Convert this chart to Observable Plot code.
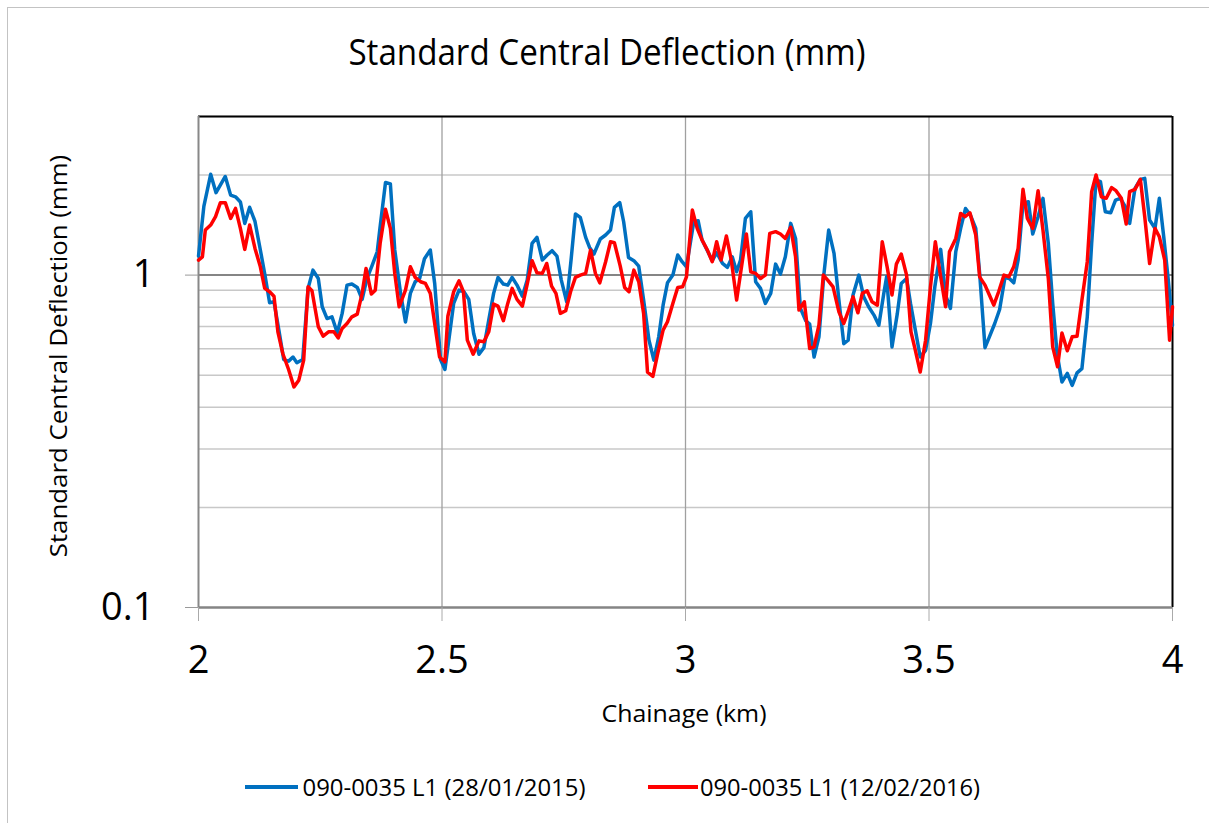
<!DOCTYPE html>
<html><head><meta charset="utf-8">
<script src="https://cdn.jsdelivr.net/npm/d3@7"></script>
<script src="https://cdn.jsdelivr.net/npm/@observablehq/plot@0.6"></script>
<style>
html,body{margin:0;padding:0;background:#fff;overflow:hidden;}
#wrap{position:relative;width:1209px;height:823px;font-family:"Open Sans",sans-serif;color:#000;overflow:hidden;}
#border{position:absolute;left:7px;top:7px;width:1300px;height:900px;border:1.5px solid #c3c3c3;box-sizing:border-box;}
#chart{position:absolute;left:0;top:0;}
.t{position:absolute;white-space:nowrap;line-height:1;transform-origin:center center;}
.sw{position:absolute;height:4px;}
</style></head><body>
<div id="wrap">
<div id="border"></div>
<div id="chart"></div>
<div class="t" id="title">Standard Central Deflection (mm)</div>
<div class="t" id="ylab">Standard Central Deflection (mm)</div>
<div class="t" id="xlab">Chainage (km)</div>
<div class="sw" id="sw1"></div><div class="t" id="lg1"></div>
<div class="sw" id="sw2"></div><div class="t" id="lg2"></div>
</div>
<script>
const seriesNames = ["090-0035 L1 (28/01/2015)", "090-0035 L1 (12/02/2016)"];
const seriesColors = ["#0070C0", "#FF0000"];
const xTicks = [2, 2.5, 3, 3.5, 4];
const yTicks = [0.1, 1];
const yMinorGrid = [0.2, 0.3, 0.4, 0.5, 0.6, 0.7, 0.8, 0.9, 2, 3];

const blueKm = [2.000,2.011,2.025,2.036,2.055,2.066,2.076,2.086,2.095,2.105,2.116,2.127,2.137,2.146,2.155,2.165,2.175,2.185,2.194,2.202,2.214,2.225,2.235,2.246,2.254,2.264,2.274,2.285,2.295,2.305,2.315,2.326,2.336,2.346,2.356,2.367,2.373,2.384,2.394,2.403,2.415,2.425,2.435,2.445,2.454,2.464,2.476,2.485,2.497,2.506,
2.524,2.535,2.545,2.555,2.565,2.576,2.586,2.596,2.606,2.615,2.626,2.635,2.644,2.654,2.665,2.675,2.685,2.695,2.706,2.716,2.726,2.736,2.745,2.756,2.765,2.774,2.784,2.795,2.803,2.812,2.825,2.836,2.846,2.854,2.865,2.873,2.883,2.894,2.904,2.914,2.925,2.935,2.945,2.954,2.963,2.974,2.984,2.993,3.002,
3.017,3.026,3.034,3.045,3.055,3.064,3.076,3.086,3.096,3.105,3.113,3.123,3.134,3.144,3.154,3.164,3.175,3.185,3.195,3.205,3.216,3.226,3.236,3.247,3.255,3.264,3.274,3.284,3.294,3.305,3.315,3.325,3.334,3.344,3.356,3.366,3.376,3.387,3.397,3.407,3.413,3.424,3.435,3.443,3.454,3.462,3.472,3.482,
3.493,3.503,3.512,3.524,3.534,3.544,3.555,3.565,3.575,3.585,3.596,3.604,3.615,3.624,3.635,3.645,3.656,3.665,3.674,3.683,3.693,3.704,3.713,3.724,3.734,3.745,3.754,3.763,3.773,3.784,3.794,3.804,3.814,3.825,3.834,3.843,3.852,3.862,3.873,3.883,3.893,3.903,3.912,3.923,3.934,3.943,3.953,3.964,3.973,3.982,3.991,4.000];
const blueMm = [1.14,1.61,2.01,1.77,1.98,1.74,1.72,1.66,1.43,1.60,1.45,1.19,0.99,0.826,0.831,0.683,0.557,0.551,0.567,0.545,0.557,0.912,1.035,0.977,0.803,0.740,0.749,0.670,0.767,0.933,0.940,0.918,0.845,0.977,1.064,1.175,1.40,1.90,1.88,1.19,0.881,0.723,0.881,0.955,0.977,1.12,1.19,0.944,0.557,0.520,
0.822,0.901,0.891,0.845,0.667,0.578,0.605,0.732,0.881,0.984,0.940,0.933,0.984,0.933,0.864,0.966,1.246,1.299,1.110,1.149,1.184,1.141,0.966,0.831,1.110,1.527,1.492,1.299,1.211,1.157,1.284,1.320,1.366,1.599,1.652,1.447,1.130,1.105,1.064,0.841,0.637,0.555,0.652,0.812,0.948,1.000,1.149,1.097,1.059,
1.447,1.457,1.275,1.184,1.105,1.168,1.084,1.055,1.135,1.023,1.110,1.481,1.551,0.955,0.912,0.822,0.881,1.079,1.007,1.135,1.431,1.289,0.794,0.729,0.712,0.567,0.652,1.000,1.366,1.162,0.841,0.622,0.637,0.871,1.000,0.860,0.803,0.758,0.707,0.877,0.988,0.608,0.767,0.944,0.977,0.822,0.683,0.567,
0.594,0.715,0.922,1.195,0.871,0.794,1.176,1.382,1.587,1.516,1.382,1.012,0.605,0.652,0.715,0.788,0.984,0.977,0.948,1.110,1.644,1.663,1.329,1.498,1.702,1.246,0.822,0.581,0.477,0.506,0.466,0.508,0.523,0.749,1.246,1.933,1.911,1.551,1.540,1.682,1.702,1.606,1.431,1.824,1.941,1.954,1.464,1.382,1.702,1.304,0.977,0.707];

const redKm = [2.000,2.008,2.014,2.025,2.035,2.045,2.055,2.066,2.076,2.086,2.095,2.105,2.116,2.127,2.136,2.146,2.155,2.163,2.173,2.185,2.196,2.206,2.216,2.225,2.233,2.246,2.256,2.267,2.278,2.287,2.295,2.305,2.315,2.326,2.336,2.344,2.355,2.363,2.373,2.384,2.394,2.403,2.412,2.425,2.435,2.445,2.456,2.466,2.476,2.485,2.495,2.506,
2.512,2.524,2.535,2.544,2.552,2.564,2.576,2.586,2.596,2.606,2.615,2.626,2.635,2.644,2.654,2.665,2.675,2.685,2.695,2.706,2.715,2.725,2.734,2.743,2.754,2.764,2.774,2.784,2.795,2.805,2.815,2.824,2.836,2.846,2.854,2.866,2.875,2.884,2.894,2.904,2.914,2.922,2.933,2.943,2.954,2.963,2.974,2.984,2.994,3.002,
3.014,3.024,3.034,3.045,3.055,3.064,3.073,3.084,3.094,3.105,3.113,3.125,3.134,3.144,3.154,3.164,3.173,3.185,3.195,3.205,3.216,3.226,3.233,3.244,3.255,3.264,3.274,3.283,3.292,3.303,3.315,3.325,3.335,3.344,3.354,3.363,3.373,3.383,3.394,3.404,3.414,3.424,3.433,3.443,3.454,3.463,3.472,3.482,3.493,3.503,3.513,
3.524,3.534,3.542,3.555,3.565,3.574,3.584,3.596,3.604,3.615,3.624,3.633,3.643,3.654,3.664,3.674,3.683,3.693,3.702,3.713,3.724,3.734,3.745,3.754,3.764,3.773,3.784,3.794,3.804,3.814,3.825,3.834,3.843,3.854,3.864,3.875,3.884,3.895,3.905,3.912,3.923,3.934,3.943,3.953,3.964,3.973,3.984,3.994,4.000];
const redMm = [1.110,1.135,1.366,1.414,1.499,1.652,1.652,1.481,1.587,1.382,1.195,1.414,1.203,1.059,0.912,0.891,0.864,0.675,0.581,0.520,0.461,0.483,0.555,0.922,0.897,0.699,0.655,0.675,0.675,0.647,0.691,0.715,0.749,0.763,0.881,1.047,0.877,0.901,1.246,1.577,1.382,1.012,0.803,0.901,1.059,0.984,0.955,0.944,0.881,0.715,0.567,0.548,
0.752,0.891,0.961,0.891,0.637,0.578,0.634,0.630,0.675,0.818,0.807,0.729,0.822,0.912,0.845,0.807,0.940,1.105,1.016,1.012,1.084,0.927,0.881,0.767,0.781,0.891,0.984,1.000,1.012,1.189,1.012,0.948,1.097,1.260,1.251,1.064,0.918,0.891,1.035,0.955,0.767,0.511,0.496,0.581,0.683,0.724,0.822,0.918,0.922,0.988,
1.569,1.382,1.275,1.189,1.097,1.260,1.110,1.311,1.110,0.841,1.012,1.329,1.023,1.012,0.977,1.000,1.335,1.351,1.329,1.289,1.392,1.135,0.785,0.831,0.601,0.608,0.707,1.000,0.966,0.922,0.775,0.715,0.785,0.860,0.770,0.881,0.897,0.831,0.812,1.260,1.059,0.871,1.079,1.157,1.000,0.675,0.594,0.511,0.637,0.922,1.260,
0.988,0.803,1.176,1.289,1.533,1.498,1.540,1.320,0.988,0.933,0.871,0.812,0.891,1.000,0.988,1.059,1.203,1.811,1.481,1.382,1.795,1.366,0.977,0.608,0.530,0.670,0.592,0.652,0.655,0.841,1.097,1.782,2.000,1.721,1.702,1.833,1.795,1.702,1.424,1.782,1.811,1.941,1.498,1.084,1.382,1.304,1.110,0.637,0.803];

const data = [
  ...blueKm.map((k, i) => ({km: k, mm: blueMm[i], s: seriesNames[0]})),
  ...redKm.map((k, i) => ({km: k, mm: redMm[i], s: seriesNames[1]}))
];

const chart = Plot.plot({
  width: 1209, height: 823,
  marginLeft: 198, marginRight: 37, marginTop: 116, marginBottom: 216,
  style: {fontFamily: "'Open Sans', sans-serif", fontSize: "38px", background: "transparent", color: "#000"},
  x: {domain: [2, 4]},
  y: {type: "log", domain: [0.1, 3]},
  color: {domain: seriesNames, range: seriesColors},
  marks: [
    Plot.ruleY(yMinorGrid, {stroke: "#c8c8c8", strokeWidth: 1.5}),
    Plot.ruleX(xTicks.slice(1, -1), {stroke: "#a0a0a0", strokeWidth: 1.3}),
    Plot.ruleY([1], {stroke: "#858585", strokeWidth: 2}),
    Plot.ruleY([3], {stroke: "#000", strokeWidth: 2}),
    Plot.ruleX([4], {stroke: "#000", strokeWidth: 2}),
    Plot.ruleX([2], {stroke: "#888", strokeWidth: 2}),
    Plot.ruleY([0.1], {stroke: "#858585", strokeWidth: 2.5}),
    Plot.axisY({ticks: yTicks, tickFormat: d => String(d), tickSize: 13, tickPadding: 31, stroke: "#999", fill: "#000", fontSize: 38, label: null}),
    Plot.axisX({ticks: xTicks, tickFormat: d => String(d), tickSize: 14, tickPadding: 25, stroke: "#aaa", fill: "#000", fontSize: 38, label: null}),
    Plot.line(data, {x: "km", y: "mm", z: "s", stroke: "s", strokeWidth: 3.5, strokeLinejoin: "round", strokeLinecap: "round"})
  ]
});
document.getElementById("chart").appendChild(chart);

function place(id, text, cx, cy, size, targetW, rot) {
  const el = document.getElementById(id);
  if (text) el.textContent = text;
  el.style.fontSize = size + "px";
  const w = el.offsetWidth;
  const s = targetW / w;
  el.style.left = cx + "px";
  el.style.top = cy + "px";
  el.style.transform = "translate(-50%,-50%)" + (rot ? " rotate(-90deg)" : "") + " scaleX(" + s + ")";
}
place("title", null, 607, 50, 37, 517, false);
place("ylab", null, 58, 356, 24, 402, true);
place("xlab", null, 684, 713, 24, 165, false);
place("lg1", seriesNames[0], 443.5, 787, 24, 283, false);
place("lg2", seriesNames[1], 840, 787, 24, 280, false);
const sw1 = document.getElementById("sw1");
sw1.style.left = "245px"; sw1.style.top = "785px"; sw1.style.width = "53px"; sw1.style.background = seriesColors[0];
const sw2 = document.getElementById("sw2");
sw2.style.left = "648px"; sw2.style.top = "785px"; sw2.style.width = "50px"; sw2.style.background = seriesColors[1];
</script>
</body></html>
